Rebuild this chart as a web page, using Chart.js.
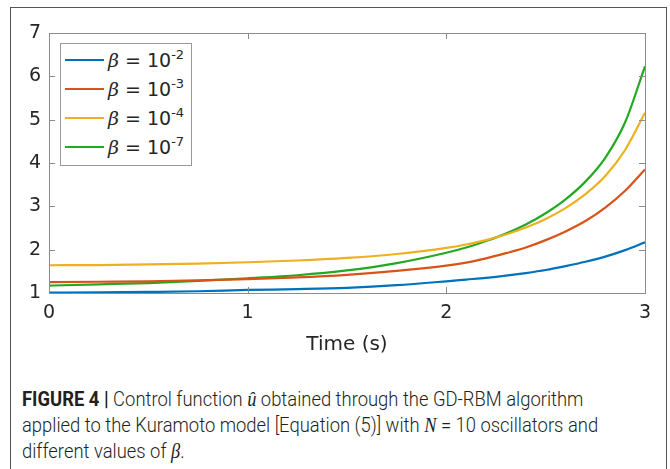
<!DOCTYPE html>
<html>
<head>
<meta charset="utf-8">
<title>Control function u</title>
<script src="https://cdn.jsdelivr.net/npm/chart.js@4.4.1/dist/chart.umd.min.js"></script>
<style>
    body { margin: 0; background: #fff; }
    #page { position: relative; width: 670px; height: 469px; overflow: hidden; background: #fff; }
    #frame { position: absolute; left: 10px; top: 7px; width: 655px; height: 480px; border: 1px solid #555; }
    #plot { position: absolute; left: 0; top: 0; }
    #legend {
        position: absolute; left: 60px; top: 43px; width: 130px; height: 121px;
        border: 1px solid #999; background: #fff;
        font-family: "DejaVu Sans"; font-size: 19px; color: #262626;
    }
    .row { position: absolute; left: 0; width: 130px; height: 29px; line-height: 29px; white-space: nowrap; }
    .swatch { position: absolute; left: 4px; top: 13px; width: 39px; height: 2px; }
    .lbl { position: absolute; left: 47px; top: 0; }
    .lbl i { font-family: "DejaVu Serif"; }
    .lbl sup { font-size: 13px; vertical-align: 8px; line-height: 0; }
    #caption {
        position: absolute; left: 22px; top: 386px; white-space: nowrap;
        font-family: "Roboto"; font-weight: 300; font-size: 20px; line-height: 26px; color: #231f20;
        transform: scaleX(0.92); transform-origin: 0 0;
    }
    #caption b { font-weight: 700; }
    #caption i { font-family: "Liberation Serif"; }
</style>
</head>
<body>
<div id="page">
    <div id="frame"></div>
    <canvas id="plot" width="670" height="357"></canvas>
    <div id="legend"></div>
    <div id="caption">
        <b>FIGURE 4 |</b> Control function <i>û</i> obtained through the GD-RBM algorithm<br>
        applied to the Kuramoto model [Equation (5)] with <i>N</i> = 10 oscillators and<br>
        different values of <i>β</i>.
    </div>
</div>
<script>
// values
var times = [0, 0.25, 0.5, 0.75, 1, 1.25, 1.5, 1.75, 2, 2.1, 2.2, 2.3, 2.4, 2.5, 2.6, 2.7, 2.8, 2.9, 3];
var beta2 = [1.01, 1.015, 1.025, 1.04, 1.07, 1.09, 1.12, 1.18, 1.27, 1.31, 1.35, 1.40, 1.46, 1.53, 1.62, 1.72, 1.84, 1.99, 2.17];
var beta3 = [1.25, 1.26, 1.27, 1.29, 1.32, 1.36, 1.42, 1.51, 1.63, 1.70, 1.80, 1.92, 2.05, 2.22, 2.42, 2.66, 2.97, 3.36, 3.85];
var beta4 = [1.64, 1.645, 1.66, 1.68, 1.71, 1.75, 1.81, 1.90, 2.04, 2.12, 2.22, 2.35, 2.51, 2.71, 2.96, 3.28, 3.70, 4.30, 5.16];
var beta7 = [1.17, 1.20, 1.23, 1.28, 1.34, 1.41, 1.52, 1.69, 1.93, 2.05, 2.20, 2.37, 2.58, 2.84, 3.16, 3.57, 4.12, 4.94, 6.23];
var exponents = ['-2', '-3', '-4', '-7'];
var lineColors = ['#0072BD', '#D95319', '#EDB120', '#22A822'];
var xTicks = [0, 1, 2, 3];
var yTicks = [1, 2, 3, 4, 5, 6, 7];

function toPoints(values) {
    return values.map(function(v, i) { return {x: times[i], y: v}; });
}

var series = [beta2, beta3, beta4, beta7];
var datasets = series.map(function(values, i) {
    return {
        label: 'β = 10' + exponents[i],
        data: toPoints(values),
        borderColor: lineColors[i],
        backgroundColor: lineColors[i],
        borderWidth: 2.2,
        pointRadius: 0,
        cubicInterpolationMode: 'monotone',
        fill: false
    };
});

// MATLAB-like box with inward tick marks
var axesBox = {
    id: 'axesBox',
    afterDatasetsDraw: function(chart) {
        var ctx = chart.ctx, a = chart.chartArea;
        var x = chart.scales.x, y = chart.scales.y;
        ctx.save();
        ctx.strokeStyle = '#8c8c8c';
        ctx.lineWidth = 1;
        ctx.strokeRect(Math.round(a.left) + 0.5, Math.round(a.top) + 0.5,
            Math.round(a.right - a.left), Math.round(a.bottom - a.top));
        ctx.beginPath();
        x.ticks.forEach(function(t) {
            var px = Math.round(x.getPixelForValue(t.value)) + 0.5;
            ctx.moveTo(px, a.bottom); ctx.lineTo(px, a.bottom - 6);
            ctx.moveTo(px, a.top); ctx.lineTo(px, a.top + 6);
        });
        y.ticks.forEach(function(t) {
            var py = Math.round(y.getPixelForValue(t.value)) + 0.5;
            ctx.moveTo(a.left, py); ctx.lineTo(a.left + 6, py);
            ctx.moveTo(a.right, py); ctx.lineTo(a.right - 6, py);
        });
        ctx.stroke();
        ctx.restore();
    }
};

var tickFont = { family: 'DejaVu Sans', size: 19 };

var chart = new Chart(document.getElementById('plot').getContext('2d'), {
    type: 'line',
    data: { datasets: datasets },
    options: {
        responsive: false,
        animation: false,
        layout: { padding: { left: 0, top: 33, right: 25, bottom: 0 } },
        scales: {
            x: {
                type: 'linear',
                min: xTicks[0],
                max: xTicks[xTicks.length - 1],
                afterBuildTicks: function(scale) {
                    scale.ticks = xTicks.map(function(v) { return {value: v}; });
                },
                afterFit: function(scale) { scale.height = 64; },
                grid: { display: false, drawTicks: false },
                border: { display: false },
                ticks: { font: tickFont, color: '#262626', padding: 9, maxRotation: 0 },
                title: {
                    display: true,
                    text: 'Time (s)',
                    font: { family: 'DejaVu Sans', size: 20 },
                    color: '#262626',
                    padding: { top: 0, bottom: 0 }
                }
            },
            y: {
                min: yTicks[0],
                max: yTicks[yTicks.length - 1],
                afterBuildTicks: function(scale) {
                    scale.ticks = yTicks.map(function(v) { return {value: v}; });
                },
                afterFit: function(scale) { scale.width = 49; },
                grid: { display: false, drawTicks: false },
                border: { display: false },
                ticks: { font: tickFont, color: '#262626', padding: 8 }
            }
        },
        plugins: {
            legend: { display: false },
            tooltip: { enabled: false }
        }
    },
    plugins: [axesBox]
});

// HTML legend built from the chart datasets
var legendBox = document.getElementById('legend');
chart.data.datasets.forEach(function(ds, i) {
    var row = document.createElement('div');
    row.className = 'row';
    row.style.top = (2 + i * 29) + 'px';
    row.innerHTML = '<span class="swatch" style="background:' + ds.borderColor + '"></span>' +
        '<span class="lbl"><i>β</i> = 10<sup>' + exponents[i] + '</sup></span>';
    legendBox.appendChild(row);
});
</script>
</body>
</html>
